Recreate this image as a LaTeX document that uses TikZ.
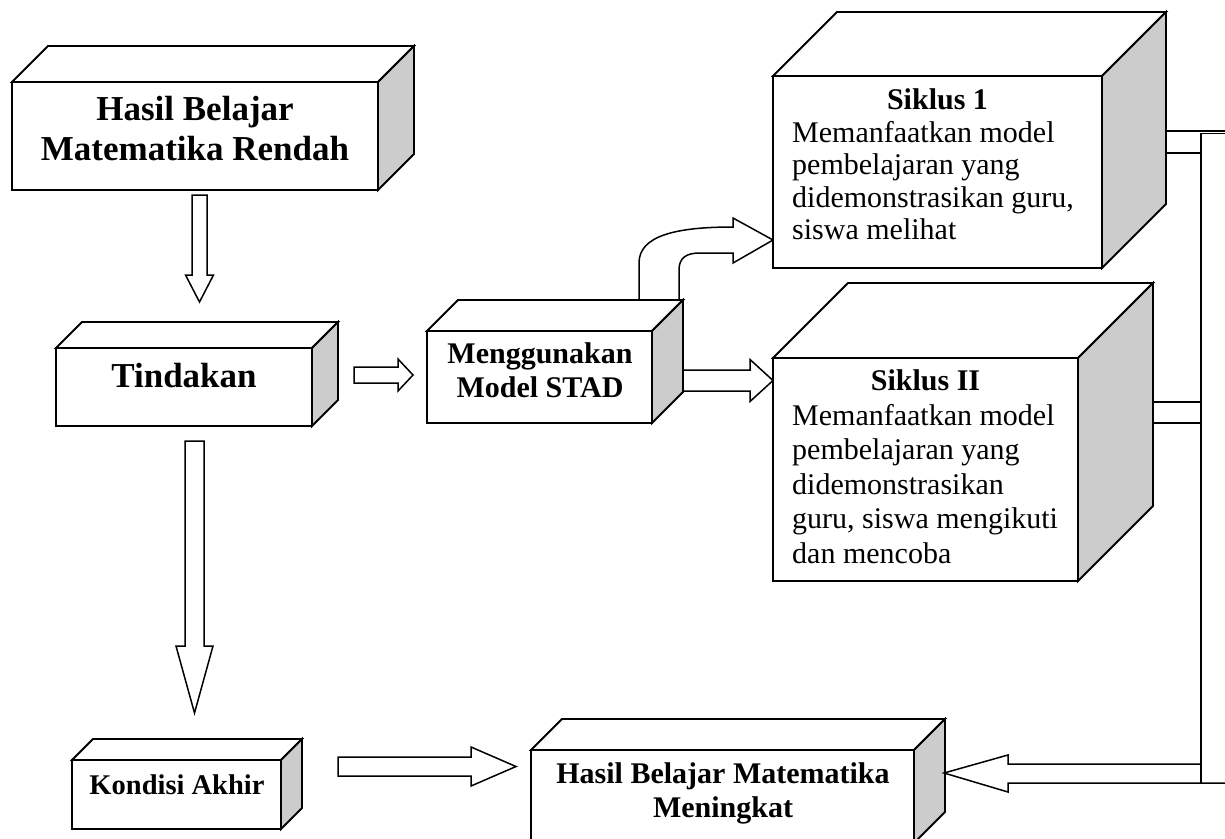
\documentclass[tikz,border=0pt]{standalone}
\usepackage{fontspec}
\setmainfont{Liberation Serif}
\usetikzlibrary{calc}
\definecolor{sidegray}{RGB}{204,204,204}
\tikzset{
  frontbox/.style={draw, line width=1.9pt, fill=white, inner sep=0pt, outer sep=0pt, anchor=north west},
  face/.style={draw, line width=1.9pt, line join=miter},
  blk/.style={draw, line width=1.5pt, fill=white, line join=miter},
  conn/.style={line width=1.5pt},
  bigt/.style={font=\bfseries\fontsize{35}{40}\selectfont, anchor=base, inner sep=0pt},
  midt/.style={font=\bfseries\fontsize{30}{34}\selectfont, anchor=base, inner sep=0pt},
  bodyt/.style={font=\fontsize{30}{34}\selectfont, anchor=base west, inner sep=0pt},
}
% name, x1, y1, x2, y2, depth
\newcommand{\cubebox}[6]{%
  \node[frontbox, minimum width={(#4-#2)*1pt}, minimum height={(#5-#3)*1pt}] (#1) at (#2,#3) {};
  \draw[face, fill=white] (#1.north west) -- ++(#6,-#6) -- ($(#1.north east)+(#6,-#6)$) -- (#1.north east) -- cycle;
  \draw[face, fill=sidegray] (#1.north east) -- ++(#6,-#6) -- ($(#1.south east)+(#6,-#6)$) -- (#1.south east) -- cycle;
}
% start, tip, half shaft, half head, head length
\newcommand{\blockarrow}[5]{%
  \path ($(#2)!#5!(#1)$) coordinate (hb);
  \draw[blk] ($(#1)!#3!90:(#2)$) -- ($(hb)!#3!-90:(#1)$) -- ($(hb)!#4!-90:(#1)$) -- (#2)
    -- ($(hb)!#4!90:(#1)$) -- ($(hb)!#3!90:(#1)$) -- ($(#1)!#3!-90:(#2)$) -- cycle;
}
\begin{document}
\begin{tikzpicture}[x=1pt,y=-1pt]
\useasboundingbox (0,0) rectangle (1225,838);
\clip (0,0) rectangle (1225,838);

% curved arrow STAD -> Siklus 1 (drawn first, box covers its foot)
\draw[blk] (639,301) -- (639,263) .. controls (639,236) and (675,227) .. (733,227)
  -- (733,218) -- (773,240) -- (733,263) -- (733,253) -- (700,253)
  .. controls (686,253) and (679,258) .. (679,270) -- (679,301);

% boxes
\cubebox{hasil}{12}{82}{378}{190}{36}
\cubebox{tindakan}{56}{348}{312}{426}{26}
\cubebox{stad}{427}{331}{652}{423}{31}
\cubebox{siklus1}{773}{76}{1102}{268}{64}
\cubebox{siklus2}{773}{358}{1078}{581}{75}
\cubebox{kondisi}{72}{760}{281}{829}{21}
\cubebox{naik}{531}{750}{914}{843}{31}

% texts
\node[bigt] (th1) at (195,120) {Hasil Belajar};
\node[bigt] (th2) at (195,160) {Matematika Rendah};
\node[bigt] (tt) at (184,387) {Tindakan};
\node[midt] (ts1) at (540,363) {Menggunakan};
\node[midt] (ts2) at (540,397) {Model STAD};
\node[midt, font=\bfseries\fontsize{28.5}{34}\selectfont] (tk) at (177,794) {Kondisi Akhir};
\node[midt] (tn1) at (723,783) {Hasil Belajar Matematika};
\node[midt] (tn2) at (723,817) {Meningkat};

\node[midt] (sa0) at (937.5,109) {Siklus 1};
\node[bodyt] (sa1) at (792,142) {Memanfaatkan model};
\node[bodyt] (sa2) at (792,174.5) {pembelajaran yang};
\node[bodyt] (sa3) at (792,207) {didemonstrasikan guru,};
\node[bodyt] (sa4) at (792,239) {siswa melihat};

\node[midt] (sb0) at (925.5,390) {Siklus II};
\node[bodyt] (sb1) at (792,425) {Memanfaatkan model};
\node[bodyt] (sb2) at (792,459.5) {pembelajaran yang};
\node[bodyt] (sb3) at (792,494) {didemonstrasikan};
\node[bodyt] (sb4) at (792,528.5) {guru, siswa mengikuti};
\node[bodyt] (sb5) at (792,563) {dan mencoba};

% straight block arrows
\coordinate (a1s) at (199.5,195);   \coordinate (a1t) at (199.5,302);
\coordinate (a2s) at (354,375);     \coordinate (a2t) at (413,375);
\coordinate (a3s) at (194.5,441);   \coordinate (a3t) at (194.5,713);
\coordinate (a4s) at (338,766.5);   \coordinate (a4t) at (516,766.5);
\coordinate (a5s) at (683,380.5);   \coordinate (a5t) at (773,380.5);
\blockarrow{a1s}{a1t}{7.5pt}{14pt}{27pt}
\blockarrow{a2s}{a2t}{8pt}{16pt}{15pt}
\blockarrow{a3s}{a3t}{9.5pt}{18.5pt}{67pt}
\blockarrow{a4s}{a4t}{9.5pt}{19.5pt}{45pt}
\blockarrow{a5s}{a5t}{10.5pt}{21pt}{23pt}

% right-hand feedback connector
\coordinate (r1) at (1166,131);  \coordinate (r1e) at (1225,131);
\coordinate (r2) at (1166,153);  \coordinate (r2e) at (1201,153);
\coordinate (rv0) at (1225,133.5); \coordinate (rvt) at (1201,133.5); \coordinate (rvb) at (1201,783);
\coordinate (r3) at (1153,402);  \coordinate (r3e) at (1201,402);
\coordinate (r4) at (1153,423);  \coordinate (r4e) at (1201,423);
\draw[conn] (r1) -- (r1e);
\draw[conn] (r2) -- (r2e);
\draw[conn] (rv0) -- (rvt) -- (rvb);
\draw[conn] (r3) -- (r3e);
\draw[conn] (r4) -- (r4e);
\coordinate (ntip) at (944,773);
\draw[conn, line join=miter] (1201,764) -- (1008,764) -- (1008,755) -- (ntip) -- (1008,792) -- (1008,783) -- (1225,783);
\end{tikzpicture}
\end{document}
